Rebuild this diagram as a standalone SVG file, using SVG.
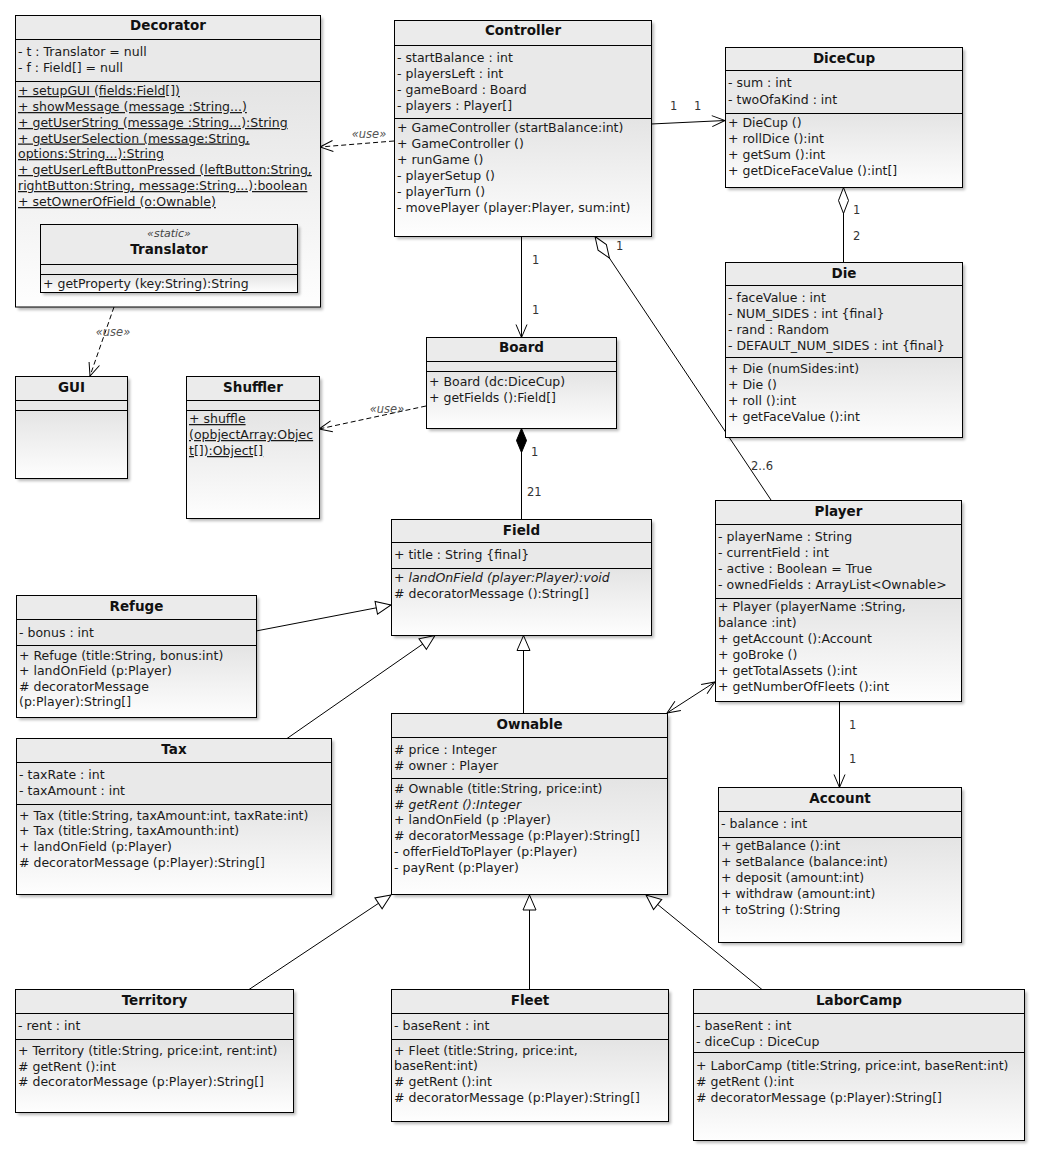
<svg xmlns="http://www.w3.org/2000/svg" width="1039" height="1156" viewBox="0 0 1039 1156">
<defs>
<linearGradient id="gOps" x1="0" y1="0" x2="0" y2="1">
<stop offset="0" stop-color="#e4e4e4"/>
<stop offset="1" stop-color="#fefefe"/>
</linearGradient>
<filter id="blur" x="-10%" y="-10%" width="120%" height="120%"><feGaussianBlur stdDeviation="1.6"/></filter>
<marker id="arrow" markerUnits="userSpaceOnUse" viewBox="-14 -8 16 16" refX="0" refY="0" markerWidth="16" markerHeight="16" orient="auto-start-reverse" overflow="visible">
<path d="M-13,-5.5 L0,0 L-13,5.5" fill="none" stroke="#000" stroke-width="1"/>
</marker>
<marker id="tri" markerUnits="userSpaceOnUse" viewBox="-16 -8 18 16" refX="0" refY="0" markerWidth="18" markerHeight="16" orient="auto" overflow="visible">
<path d="M0,0 L-15,-6.5 L-15,6.5 Z" fill="#fff" stroke="#000" stroke-width="1"/>
</marker>
<marker id="dia" markerUnits="userSpaceOnUse" viewBox="-2 -7 30 14" refX="0" refY="0" markerWidth="30" markerHeight="14" orient="auto" overflow="visible">
<path d="M0,0 L13,-5 L26,0 L13,5 Z" fill="#fff" stroke="#000" stroke-width="1"/>
</marker>
<marker id="diaF" markerUnits="userSpaceOnUse" viewBox="-2 -7 30 14" refX="0" refY="0" markerWidth="30" markerHeight="14" orient="auto" overflow="visible">
<path d="M0,0 L12,-5 L24,0 L12,5 Z" fill="#000" stroke="#000" stroke-width="1"/>
</marker>
</defs>
<style>
.sh{fill:#000;opacity:.28;filter:url(#blur)}
.hdr{fill:#ebebeb}
.att{fill:#e9e9e9}
.ops{fill:url(#gOps)}
.out{fill:none;stroke:#000;stroke-width:1}
.sep{stroke:#000;stroke-width:1}
text{font-family:"DejaVu Sans",Verdana,sans-serif;fill:#1a1a1a}
.t{font-size:13.5px;font-weight:bold;text-anchor:middle;fill:#111}
.m{font-size:12.5px}
.u{text-decoration:underline}
.i{font-style:italic}
.st{font-size:11px;font-style:italic;text-anchor:middle;fill:#444}
.lbl{font-size:11.5px;fill:#333}
.use{font-size:11.5px;font-style:italic;fill:#555;text-anchor:middle}
.ln{fill:none;stroke:#000;stroke-width:1}
.dash{stroke-dasharray:5,3}
</style>

<g id="connectors">
<path class="ln dash" d="M394,141 L320,147" marker-end="url(#arrow)"/>
<text class="use" x="369" y="138">«use»</text>
<path class="ln dash" d="M114,307 L90,376" marker-end="url(#arrow)"/>
<text class="use" x="113" y="336">«use»</text>
<path class="ln dash" d="M426,406 L319,429" marker-end="url(#arrow)"/>
<text class="use" x="387" y="413">«use»</text>
<path class="ln" d="M651,124 L725,120.5" marker-end="url(#arrow)"/>
<text class="lbl" x="670" y="110">1</text>
<text class="lbl" x="694" y="110">1</text>
<path class="ln" d="M843.5,187.5 L843.5,262.5" marker-start="url(#dia)"/>
<text class="lbl" x="853" y="214">1</text>
<text class="lbl" x="853" y="240">2</text>
<path class="ln" d="M521.5,236.5 L521.5,337.5" marker-end="url(#arrow)"/>
<text class="lbl" x="532" y="264">1</text>
<text class="lbl" x="532" y="314">1</text>
<path class="ln" d="M595,236.5 L771,500" marker-start="url(#dia)"/>
<text class="lbl" x="616" y="250">1</text>
<text class="lbl" x="751" y="470">2..6</text>
<path class="ln" d="M521.5,428.5 L521.5,519.5" marker-start="url(#diaF)"/>
<text class="lbl" x="531" y="456">1</text>
<text class="lbl" x="527" y="496">21</text>
<path class="ln" d="M256,631 L391,605" marker-end="url(#tri)"/>
<path class="ln" d="M287,738.5 L435,635.5" marker-end="url(#tri)"/>
<path class="ln" d="M523.5,713.5 L523.5,635.5" marker-end="url(#tri)"/>
<path class="ln" d="M667,713 L715,682" marker-start="url(#arrow)" marker-end="url(#arrow)"/>
<path class="ln" d="M839.5,701.5 L839.5,787.5" marker-end="url(#arrow)"/>
<text class="lbl" x="849" y="729">1</text>
<text class="lbl" x="849" y="763">1</text>
<path class="ln" d="M249,989.5 L391,895" marker-end="url(#tri)"/>
<path class="ln" d="M529.5,989.5 L529.5,895" marker-end="url(#tri)"/>
<path class="ln" d="M762,989.5 L646,895" marker-end="url(#tri)"/>
</g>

<g id="Decorator">
<rect class="sh" x="18" y="18" width="305" height="292"/>
<rect class="hdr" x="15.5" y="15.5" width="305" height="24"/>
<rect class="att" x="15.5" y="39.5" width="305" height="42"/>
<rect class="ops" x="15.5" y="81.5" width="305" height="225.5"/>
<rect class="out" x="15.5" y="15.5" width="305" height="291.5"/>
<path class="sep" d="M15.5,39.5H320.5M15.5,81.5H320.5"/>
<text class="t" x="168" y="30">Decorator</text>
<text class="m" x="18" y="56">- t : Translator = null</text>
<text class="m" x="18" y="72">- f : Field[] = null</text>
<text class="m u" x="18" y="95">+ setupGUI (fields:Field[])</text>
<text class="m u" x="18" y="111">+ showMessage (message :String...)</text>
<text class="m u" x="18" y="127">+ getUserString (message :String...):String</text>
<text class="m u" x="18" y="142.5">+ getUserSelection (message:String,</text>
<text class="m u" x="18" y="158">options:String...):String</text>
<text class="m u" x="18" y="174">+ getUserLeftButtonPressed (leftButton:String,</text>
<text class="m u" x="18" y="190">rightButton:String, message:String...):boolean</text>
<text class="m u" x="18" y="206">+ setOwnerOfField (o:Ownable)</text>
</g>

<g id="Translator">
<rect class="sh" x="43" y="227" width="257" height="68"/>
<rect class="hdr" x="40.5" y="224.5" width="257" height="40"/>
<rect class="att" x="40.5" y="264.5" width="257" height="10"/>
<rect class="ops" x="40.5" y="274.5" width="257" height="18"/>
<rect class="out" x="40.5" y="224.5" width="257" height="68"/>
<path class="sep" d="M40.5,264.5H297.5M40.5,274.5H297.5"/>
<text class="st" x="169" y="237">«static»</text>
<text class="t" x="169" y="254">Translator</text>
<text class="m" x="43" y="288">+ getProperty (key:String):String</text>
</g>

<g id="Controller">
<rect class="sh" x="397" y="23" width="257" height="216"/>
<rect class="hdr" x="394.5" y="20.5" width="257" height="25"/>
<rect class="att" x="394.5" y="45.5" width="257" height="73"/>
<rect class="ops" x="394.5" y="118.5" width="257" height="118"/>
<rect class="out" x="394.5" y="20.5" width="257" height="216"/>
<path class="sep" d="M394.5,45.5H651.5M394.5,118.5H651.5"/>
<text class="t" x="523" y="35">Controller</text>
<text class="m" x="397" y="61.5">- startBalance : int</text>
<text class="m" x="397" y="77.5">- playersLeft : int</text>
<text class="m" x="397" y="93.5">- gameBoard : Board</text>
<text class="m" x="397" y="109.5">- players : Player[]</text>
<text class="m" x="397" y="132">+ GameController (startBalance:int)</text>
<text class="m" x="397" y="148">+ GameController ()</text>
<text class="m" x="397" y="164">+ runGame ()</text>
<text class="m" x="397" y="180">- playerSetup ()</text>
<text class="m" x="397" y="196">- playerTurn ()</text>
<text class="m" x="397" y="212">- movePlayer (player:Player, sum:int)</text>
</g>

<g id="DiceCup">
<rect class="sh" x="728" y="50" width="237" height="140"/>
<rect class="hdr" x="725.5" y="47.5" width="237" height="23"/>
<rect class="att" x="725.5" y="70.5" width="237" height="43"/>
<rect class="ops" x="725.5" y="113.5" width="237" height="74"/>
<rect class="out" x="725.5" y="47.5" width="237" height="140"/>
<path class="sep" d="M725.5,70.5H962.5M725.5,113.5H962.5"/>
<text class="t" x="844" y="62.5">DiceCup</text>
<text class="m" x="728" y="87">- sum : int</text>
<text class="m" x="728" y="103.5">- twoOfaKind : int</text>
<text class="m" x="728" y="127">+ DieCup ()</text>
<text class="m" x="728" y="143">+ rollDice ():int</text>
<text class="m" x="728" y="159">+ getSum ():int</text>
<text class="m" x="728" y="175">+ getDiceFaceValue ():int[]</text>
</g>

<g id="Die">
<rect class="sh" x="728" y="265" width="237" height="175"/>
<rect class="hdr" x="725.5" y="262.5" width="237" height="23"/>
<rect class="att" x="725.5" y="285.5" width="237" height="72"/>
<rect class="ops" x="725.5" y="357.5" width="237" height="80"/>
<rect class="out" x="725.5" y="262.5" width="237" height="175"/>
<path class="sep" d="M725.5,285.5H962.5M725.5,357.5H962.5"/>
<text class="t" x="844" y="277.5">Die</text>
<text class="m" x="728" y="302">- faceValue : int</text>
<text class="m" x="728" y="318">- NUM_SIDES : int {final}</text>
<text class="m" x="728" y="334">- rand : Random</text>
<text class="m" x="728" y="350">- DEFAULT_NUM_SIDES : int {final}</text>
<text class="m" x="728" y="373">+ Die (numSides:int)</text>
<text class="m" x="728" y="389">+ Die ()</text>
<text class="m" x="728" y="405">+ roll ():int</text>
<text class="m" x="728" y="421">+ getFaceValue ():int</text>
</g>

<g id="Board">
<rect class="sh" x="429" y="340" width="190" height="91"/>
<rect class="hdr" x="426.5" y="337.5" width="190" height="24"/>
<rect class="att" x="426.5" y="361.5" width="190" height="10"/>
<rect class="ops" x="426.5" y="371.5" width="190" height="57"/>
<rect class="out" x="426.5" y="337.5" width="190" height="91"/>
<path class="sep" d="M426.5,361.5H616.5M426.5,371.5H616.5"/>
<text class="t" x="521.5" y="352">Board</text>
<text class="m" x="429" y="386">+ Board (dc:DiceCup)</text>
<text class="m" x="429" y="402">+ getFields ():Field[]</text>
</g>

<g id="GUI">
<rect class="sh" x="18" y="379" width="112" height="102"/>
<rect class="hdr" x="15.5" y="376.5" width="112" height="24"/>
<rect class="att" x="15.5" y="400.5" width="112" height="10"/>
<rect class="ops" x="15.5" y="410.5" width="112" height="68"/>
<rect class="out" x="15.5" y="376.5" width="112" height="102"/>
<path class="sep" d="M15.5,400.5H127.5M15.5,410.5H127.5"/>
<text class="t" x="71.5" y="391.5">GUI</text>
</g>

<g id="Shuffler">
<rect class="sh" x="189" y="379" width="133" height="142"/>
<rect class="hdr" x="186.5" y="376.5" width="133" height="24"/>
<rect class="att" x="186.5" y="400.5" width="133" height="10"/>
<rect class="ops" x="186.5" y="410.5" width="133" height="108"/>
<rect class="out" x="186.5" y="376.5" width="133" height="142"/>
<path class="sep" d="M186.5,400.5H319.5M186.5,410.5H319.5"/>
<text class="t" x="253" y="391.5">Shuffler</text>
<text class="m u" x="189" y="423">+ shuffle</text>
<text class="m u" x="189" y="439">(opbjectArray:Objec</text>
<text class="m u" x="189" y="455">t[]):Object[]</text>
</g>

<g id="Field">
<rect class="sh" x="394" y="522" width="260" height="116"/>
<rect class="hdr" x="391.5" y="519.5" width="260" height="23"/>
<rect class="att" x="391.5" y="542.5" width="260" height="26"/>
<rect class="ops" x="391.5" y="568.5" width="260" height="67"/>
<rect class="out" x="391.5" y="519.5" width="260" height="116"/>
<path class="sep" d="M391.5,542.5H651.5M391.5,568.5H651.5"/>
<text class="t" x="521.5" y="534.5">Field</text>
<text class="m" x="394" y="559">+ title : String {final}</text>
<text class="m" x="394" y="582">+ <tspan class="i">landOnField (player:Player):void</tspan></text>
<text class="m" x="394" y="598"># decoratorMessage ():String[]</text>
</g>

<g id="Refuge">
<rect class="sh" x="19" y="598" width="240" height="122"/>
<rect class="hdr" x="16.5" y="595.5" width="240" height="24"/>
<rect class="att" x="16.5" y="619.5" width="240" height="26"/>
<rect class="ops" x="16.5" y="645.5" width="240" height="72"/>
<rect class="out" x="16.5" y="595.5" width="240" height="122"/>
<path class="sep" d="M16.5,619.5H256.5M16.5,645.5H256.5"/>
<text class="t" x="136.5" y="610.5">Refuge</text>
<text class="m" x="19" y="637">- bonus : int</text>
<text class="m" x="19" y="659.5">+ Refuge (title:String, bonus:int)</text>
<text class="m" x="19" y="675">+ landOnField (p:Player)</text>
<text class="m" x="19" y="690.5"># decoratorMessage</text>
<text class="m" x="19" y="706">(p:Player):String[]</text>
</g>

<g id="Tax">
<rect class="sh" x="19" y="741" width="315" height="156"/>
<rect class="hdr" x="16.5" y="738.5" width="315" height="24"/>
<rect class="att" x="16.5" y="762.5" width="315" height="42"/>
<rect class="ops" x="16.5" y="804.5" width="315" height="90"/>
<rect class="out" x="16.5" y="738.5" width="315" height="156"/>
<path class="sep" d="M16.5,762.5H331.5M16.5,804.5H331.5"/>
<text class="t" x="174" y="753.5">Tax</text>
<text class="m" x="19" y="779">- taxRate : int</text>
<text class="m" x="19" y="795">- taxAmount : int</text>
<text class="m" x="19" y="819.5">+ Tax (title:String, taxAmount:int, taxRate:int)</text>
<text class="m" x="19" y="835">+ Tax (title:String, taxAmounth:int)</text>
<text class="m" x="19" y="851">+ landOnField (p:Player)</text>
<text class="m" x="19" y="867"># decoratorMessage (p:Player):String[]</text>
</g>

<g id="Ownable">
<rect class="sh" x="394" y="716" width="276" height="181"/>
<rect class="hdr" x="391.5" y="713.5" width="276" height="24"/>
<rect class="att" x="391.5" y="737.5" width="276" height="41"/>
<rect class="ops" x="391.5" y="778.5" width="276" height="116"/>
<rect class="out" x="391.5" y="713.5" width="276" height="181"/>
<path class="sep" d="M391.5,737.5H667.5M391.5,778.5H667.5"/>
<text class="t" x="529.5" y="728.5">Ownable</text>
<text class="m" x="394" y="753.5"># price : Integer</text>
<text class="m" x="394" y="769.5"># owner : Player</text>
<text class="m" x="394" y="792.5"># Ownable (title:String, price:int)</text>
<text class="m i" x="394" y="808.5"># getRent ():Integer</text>
<text class="m" x="394" y="824">+ landOnField (p :Player)</text>
<text class="m" x="394" y="840"># decoratorMessage (p:Player):String[]</text>
<text class="m" x="394" y="855.5">- offerFieldToPlayer (p:Player)</text>
<text class="m" x="394" y="871.5">- payRent (p:Player)</text>
</g>

<g id="Player">
<rect class="sh" x="718" y="503" width="246" height="201"/>
<rect class="hdr" x="715.5" y="500.5" width="246" height="24"/>
<rect class="att" x="715.5" y="524.5" width="246" height="74"/>
<rect class="ops" x="715.5" y="598.5" width="246" height="103"/>
<rect class="out" x="715.5" y="500.5" width="246" height="201"/>
<path class="sep" d="M715.5,524.5H961.5M715.5,598.5H961.5"/>
<text class="t" x="838.5" y="515.5">Player</text>
<text class="m" x="718" y="540.5">- playerName : String</text>
<text class="m" x="718" y="556.5">- currentField : int</text>
<text class="m" x="718" y="572.5">- active : Boolean = True</text>
<text class="m" x="718" y="588.5">- ownedFields : ArrayList&lt;Ownable&gt;</text>
<text class="m" x="718" y="610.5">+ Player (playerName :String,</text>
<text class="m" x="718" y="626.5">balance :int)</text>
<text class="m" x="718" y="642.5">+ getAccount ():Account</text>
<text class="m" x="718" y="658.5">+ goBroke ()</text>
<text class="m" x="718" y="674.5">+ getTotalAssets ():int</text>
<text class="m" x="718" y="690.5">+ getNumberOfFleets ():int</text>
</g>

<g id="Account">
<rect class="sh" x="721" y="790" width="243" height="155"/>
<rect class="hdr" x="718.5" y="787.5" width="243" height="24"/>
<rect class="att" x="718.5" y="811.5" width="243" height="26"/>
<rect class="ops" x="718.5" y="837.5" width="243" height="105"/>
<rect class="out" x="718.5" y="787.5" width="243" height="155"/>
<path class="sep" d="M718.5,811.5H961.5M718.5,837.5H961.5"/>
<text class="t" x="840" y="802.5">Account</text>
<text class="m" x="721" y="827.5">- balance : int</text>
<text class="m" x="721" y="849.5">+ getBalance ():int</text>
<text class="m" x="721" y="865.5">+ setBalance (balance:int)</text>
<text class="m" x="721" y="881.5">+ deposit (amount:int)</text>
<text class="m" x="721" y="897.5">+ withdraw (amount:int)</text>
<text class="m" x="721" y="913.5">+ toString ():String</text>
</g>

<g id="Territory">
<rect class="sh" x="18" y="992" width="278" height="123"/>
<rect class="hdr" x="15.5" y="989.5" width="278" height="24"/>
<rect class="att" x="15.5" y="1013.5" width="278" height="26"/>
<rect class="ops" x="15.5" y="1039.5" width="278" height="73"/>
<rect class="out" x="15.5" y="989.5" width="278" height="123"/>
<path class="sep" d="M15.5,1013.5H293.5M15.5,1039.5H293.5"/>
<text class="t" x="154.5" y="1004.5">Territory</text>
<text class="m" x="18" y="1030">- rent : int</text>
<text class="m" x="18" y="1054.5">+ Territory (title:String, price:int, rent:int)</text>
<text class="m" x="18" y="1070.5"># getRent ():int</text>
<text class="m" x="18" y="1086"># decoratorMessage (p:Player):String[]</text>
</g>

<g id="Fleet">
<rect class="sh" x="394" y="992" width="277" height="132"/>
<rect class="hdr" x="391.5" y="989.5" width="277" height="24"/>
<rect class="att" x="391.5" y="1013.5" width="277" height="26"/>
<rect class="ops" x="391.5" y="1039.5" width="277" height="82"/>
<rect class="out" x="391.5" y="989.5" width="277" height="132"/>
<path class="sep" d="M391.5,1013.5H668.5M391.5,1039.5H668.5"/>
<text class="t" x="530" y="1004.5">Fleet</text>
<text class="m" x="394" y="1030">- baseRent : int</text>
<text class="m" x="394" y="1054.5">+ Fleet (title:String, price:int,</text>
<text class="m" x="394" y="1070">baseRent:int)</text>
<text class="m" x="394" y="1086"># getRent ():int</text>
<text class="m" x="394" y="1101.5"># decoratorMessage (p:Player):String[]</text>
</g>

<g id="LaborCamp">
<rect class="sh" x="696" y="992" width="331" height="151"/>
<rect class="hdr" x="693.5" y="989.5" width="331" height="24"/>
<rect class="att" x="693.5" y="1013.5" width="331" height="39"/>
<rect class="ops" x="693.5" y="1052.5" width="331" height="88"/>
<rect class="out" x="693.5" y="989.5" width="331" height="151"/>
<path class="sep" d="M693.5,1013.5H1024.5M693.5,1052.5H1024.5"/>
<text class="t" x="859" y="1004.5">LaborCamp</text>
<text class="m" x="696" y="1030">- baseRent : int</text>
<text class="m" x="696" y="1046">- diceCup : DiceCup</text>
<text class="m" x="696" y="1070">+ LaborCamp (title:String, price:int, baseRent:int)</text>
<text class="m" x="696" y="1086"># getRent ():int</text>
<text class="m" x="696" y="1101.5"># decoratorMessage (p:Player):String[]</text>
</g>
</svg>
